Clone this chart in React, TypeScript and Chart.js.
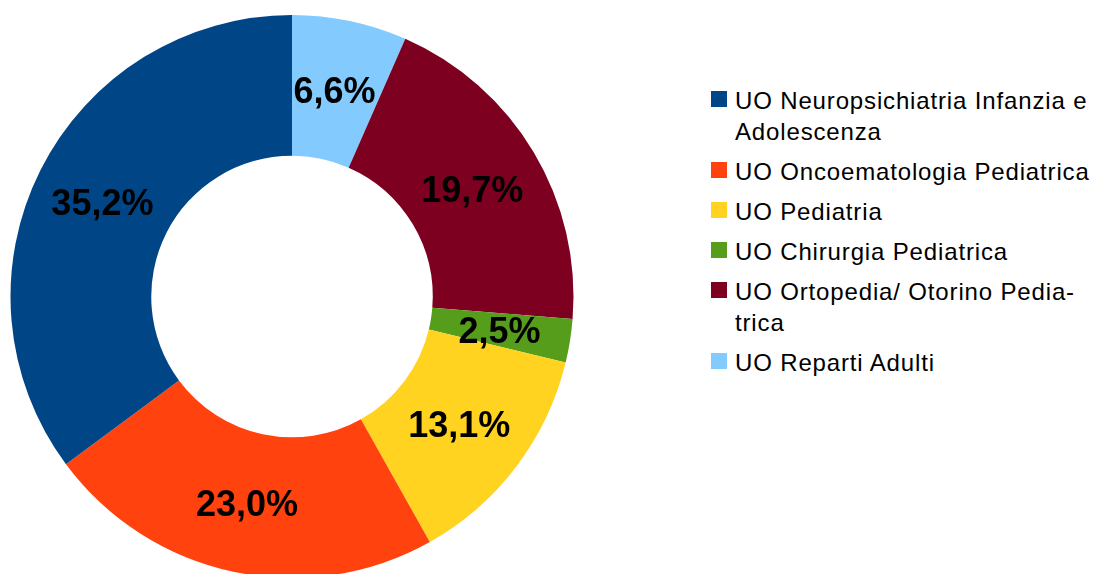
import React, { useEffect, useRef } from "react";
import { Chart, registerables } from "chart.js";

Chart.register(...registerables);

const categories = [
  "UO Neuropsichiatria Infanzia e Adolescenza",
  "UO Oncoematologia Pediatrica",
  "UO Pediatria",
  "UO Chirurgia Pediatrica",
  "UO Ortopedia/ Otorino Pediatrica",
  "UO Reparti Adulti",
];
const legendLines = [
  ["UO Neuropsichiatria Infanzia e", "Adolescenza"],
  ["UO Oncoematologia Pediatrica"],
  ["UO Pediatria"],
  ["UO Chirurgia Pediatrica"],
  ["UO Ortopedia/ Otorino Pedia-", "trica"],
  ["UO Reparti Adulti"],
];
const values = [35.2, 23.0, 13.1, 2.5, 19.7, 6.6];
const colors = ["#004586", "#ff420e", "#ffd320", "#579d1c", "#7e0021", "#83caff"];

const FONT = '"Liberation Sans", Arial, sans-serif';

export default function App() {
  const canvasRef = useRef<HTMLCanvasElement | null>(null);

  useEffect(() => {
    document.body.style.margin = "0";
    const canvas = canvasRef.current;
    if (!canvas) return;
    // Chart.js draws clockwise; the reference runs counter-clockwise from the top,
    // so feed the series in reverse order.
    const order = values.map((_, i) => i).reverse();
    const labelPlugin = {
      id: "pctLabels",
      afterDatasetsDraw(chart: any) {
        const ctx = chart.ctx;
        const meta = chart.getDatasetMeta(0);
        ctx.save();
        ctx.font = `bold 36px ${FONT}`;
        ctx.fillStyle = "#000000";
        ctx.textAlign = "center";
        ctx.textBaseline = "middle";
        meta.data.forEach((arc: any, i: number) => {
          const v = chart.data.datasets[0].data[i] as number;
          const { x, y } = arc.getCenterPoint();
          ctx.fillText(v.toFixed(1).replace(".", ",") + "%", x - 1, y + 3.5);
        });
        ctx.restore();
      },
    };
    const chart = new Chart(canvas, {
      type: "doughnut",
      data: {
        labels: order.map((i) => categories[i]),
        datasets: [
          {
            data: order.map((i) => values[i]),
            backgroundColor: order.map((i) => colors[i]),
            borderWidth: 0,
            hoverOffset: 0,
            offset: 0,
          },
        ],
      },
      options: {
        responsive: false,
        animation: false,
        events: [],
        cutout: "50%",
        layout: { padding: { left: 10.5, right: 10.5, top: 15, bottom: 22 } },
        plugins: {
          legend: { display: false },
          tooltip: { enabled: false },
        },
      },
      plugins: [labelPlugin],
    });
    return () => chart.destroy();
  }, []);

  return (
    <div
      style={{
        position: "relative",
        width: 1096,
        height: 574,
        overflow: "hidden",
        background: "#ffffff",
      }}
    >
      <canvas
        ref={canvasRef}
        width={584}
        height={600}
        style={{ position: "absolute", left: 0, top: 0, width: 584, height: 600 }}
      />
      <div
        style={{
          position: "absolute",
          left: 711,
          top: 84.5,
          fontFamily: FONT,
          fontSize: 24,
          letterSpacing: "0.85px",
          lineHeight: "31px",
          color: "#000000",
        }}
      >
        {legendLines.map((lines, i) => (
          <div key={i} style={{ position: "relative", marginBottom: 9, paddingLeft: 24, whiteSpace: "nowrap" }}>
            <span
              style={{
                position: "absolute",
                left: 0,
                top: 6,
                width: 16,
                height: 16,
                background: colors[i],
              }}
            />
            {lines.map((t, j) => (
              <div key={j}>{t}</div>
            ))}
          </div>
        ))}
      </div>
    </div>
  );
}
